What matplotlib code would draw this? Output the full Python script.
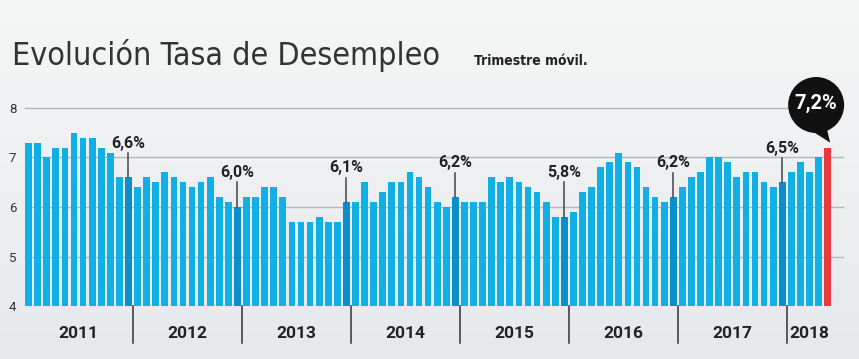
import matplotlib
matplotlib.use("Agg")
import matplotlib.pyplot as plt
import numpy as np
from matplotlib import font_manager
from matplotlib.font_manager import FontProperties
from matplotlib.patches import Circle, Polygon
from matplotlib.transforms import Affine2D, ScaledTranslation
from matplotlib.colors import LinearSegmentedColormap

# ---------------- data ----------------
years = ["2011", "2012", "2013", "2014", "2015", "2016", "2017", "2018"]
rate_2011 = [7.3, 7.3, 7.0, 7.2, 7.2, 7.5, 7.4, 7.4, 7.2, 7.1, 6.6, 6.6]
rate_2012 = [6.4, 6.6, 6.5, 6.7, 6.6, 6.5, 6.4, 6.5, 6.6, 6.2, 6.1, 6.0]
rate_2013 = [6.2, 6.2, 6.4, 6.4, 6.2, 5.7, 5.7, 5.7, 5.8, 5.7, 5.7, 6.1]
rate_2014 = [6.1, 6.5, 6.1, 6.3, 6.5, 6.5, 6.7, 6.6, 6.4, 6.1, 6.0, 6.2]
rate_2015 = [6.1, 6.1, 6.1, 6.6, 6.5, 6.6, 6.5, 6.4, 6.3, 6.1, 5.8, 5.8]
rate_2016 = [5.9, 6.3, 6.4, 6.8, 6.9, 7.1, 6.9, 6.8, 6.4, 6.2, 6.1, 6.2]
rate_2017 = [6.4, 6.6, 6.7, 7.0, 7.0, 6.9, 6.6, 6.7, 6.7, 6.5, 6.4, 6.5]
rate_2018 = [6.7, 6.9, 6.7, 7.0, 7.2]
series = [rate_2011, rate_2012, rate_2013, rate_2014, rate_2015,
          rate_2016, rate_2017, rate_2018]
dec_labels = ["6,6%", "6,0%", "6,1%", "6,2%", "5,8%", "6,2%", "6,5%"]
last_label = "7,2%"
yticks = [4, 5, 6, 7, 8]
title = "Evolución Tasa de Desempleo"
subtitle = "Trimestre móvil."

# ---------------- style ----------------
values = np.concatenate([np.array(s, float) for s in series])
n = len(values)
x = np.arange(n)
year_start = np.cumsum([0] + [len(s) for s in series])[:-1]
year_end = year_start + np.array([len(s) for s in series])

BLUE = "#10b0e6"
DARK = "#0a8fcc"
RED = "#ea3a40"

names = {f.name for f in font_manager.fontManager.ttflist}
boldf = "Roboto" if "Roboto" in names else "DejaVu Sans"


def find_font(bold):
    cands = []
    for f in font_manager.fontManager.ttflist:
        fn = f.fname.lower()
        if not ("condensed" in fn or "narrow" in fn):
            continue
        if "italic" in fn or "oblique" in fn:
            continue
        isbold = "bold" in fn
        if isbold != bold:
            continue
        if any(k in fn for k in ("semibold", "extrabold", "light", "thin", "black", "medium")):
            continue
        cands.append(f.fname)
    cands.sort(key=lambda s: (0 if "liberation" in s.lower() else 1 if "dejavu" in s.lower() else 2, s))
    return cands[0] if cands else None


f_reg = find_font(False)
f_bold = find_font(True)
title_fp = FontProperties(fname=f_reg) if f_reg else FontProperties(family="Lato")
sub_fp = FontProperties(fname=f_bold) if f_bold else FontProperties(family="Lato", weight="bold")

W, H = 859, 359
fig = plt.figure(figsize=(W / 100, H / 100), dpi=100)
fig.patch.set_facecolor("#eef0f1")

# background gradient
bg = fig.add_axes([0, 0, 1, 1], zorder=-10)
grad = np.linspace(0, 1, 256)[:, None]
cmap = LinearSegmentedColormap.from_list("bg", ["#f5f6f6", "#e6e9ec"])
bg.imshow(grad, aspect="auto", cmap=cmap, extent=[0, 1, 0, 1])
bg.set_axis_off()

# axes geometry (pixels)
left_px, right_px, bottom_px, top_px = 22, 850, 306, 78
bar0_px, step_px = 28.6, 9.08
ppu_y = 49.5
xl = ((left_px - bar0_px) / step_px, (right_px - bar0_px) / step_px)
yl = (4, 4 + (bottom_px - top_px) / ppu_y)

ax = fig.add_axes([left_px / W, 1 - bottom_px / H,
                   (right_px - left_px) / W, (bottom_px - top_px) / H])
ax.set_facecolor("none")
ax.set_xlim(*xl)
ax.set_ylim(*yl)
for s in ax.spines.values():
    s.set_visible(False)
ax.set_xticks([])
ax.set_yticks(yticks)
ax.set_yticklabels([str(t) for t in yticks], fontsize=9.5, color="#333333",
                   family=boldf)
ax.tick_params(axis="y", length=0, pad=4)

# gridlines
for t in yticks[1:]:
    xe = 83.9 if t == 8 else 89.7
    ax.plot([-0.4, xe], [t, t], color="#b5b8bb", lw=1, zorder=1)

colors = [BLUE] * n
for e in year_end[:-1]:
    colors[e - 1] = DARK
colors[-1] = RED
ax.bar(x, values, width=0.74, color=colors, zorder=2)

# year band below axis
for e in year_end[:-1]:
    ax.plot([e - 0.5, e - 0.5], [4, 4 - 37 / ppu_y], color="#333333",
            lw=1.1, clip_on=False, zorder=3)
for i, yname in enumerate(years):
    cx = (year_start[i] - 0.5 + year_end[i] - 0.5) / 2
    ax.text(cx, 4 - 27 / ppu_y, yname, ha="center", va="center",
            fontsize=12.5, color="#222222", family=boldf, fontweight="bold",
            clip_on=False)

# december annotations
for lab, e in zip(dec_labels, year_end[:-1]):
    i = e - 1
    v = values[i]
    ly = max(v + 0.69, 6.7)
    ax.text(i, ly, lab, ha="center", va="center", fontsize=11.5,
            fontweight="bold", color="#222222", family=boldf, zorder=5)
    ax.plot([i, i], [ly - 10 / ppu_y, v], color="#444444", lw=1.1, zorder=4)

# bubble for the last value (pixel offsets from the bar top)
li, lv = n - 1, values[-1]
anchor = ScaledTranslation(li, lv, ax.transData)
circ = Circle((-11.5, 42.6), 28, facecolor="#111111", edgecolor="none",
              zorder=6, clip_on=False)
ax.add_patch(circ)
circ.set_transform(Affine2D() + anchor)
tail = Polygon([(-21, 20), (-2, 24), (2.5, 5)], closed=True,
               facecolor="#111111", edgecolor="none", zorder=6, clip_on=False)
ax.add_patch(tail)
tail.set_transform(Affine2D() + anchor)
ax.annotate(last_label, xy=(li, lv), xytext=(-11.5 * 0.72, 44.0 * 0.72),
            textcoords="offset points", ha="center", va="center",
            fontsize=14.5, fontweight="bold", color="white", family=boldf,
            zorder=8, annotation_clip=False)

# titles (fit widths to the reference)
t1 = fig.text(12 / W, 1 - 55 / H, title, fontproperties=title_fp,
              color="#333333", ha="left", va="center")
t1.set_fontsize(27)
t2 = fig.text(474 / W, 1 - 61 / H, subtitle, fontproperties=sub_fp,
              color="#222222", ha="left", va="center")
t2.set_fontsize(13)
renderer = fig.canvas.get_renderer()
for t, target in ((t1, 426.0), (t2, 115.0)):
    w = t.get_window_extent(renderer).width
    t.set_fontsize(t.get_fontsize() * target / w)

fig.savefig("out.png", dpi=100, facecolor=fig.get_facecolor())
